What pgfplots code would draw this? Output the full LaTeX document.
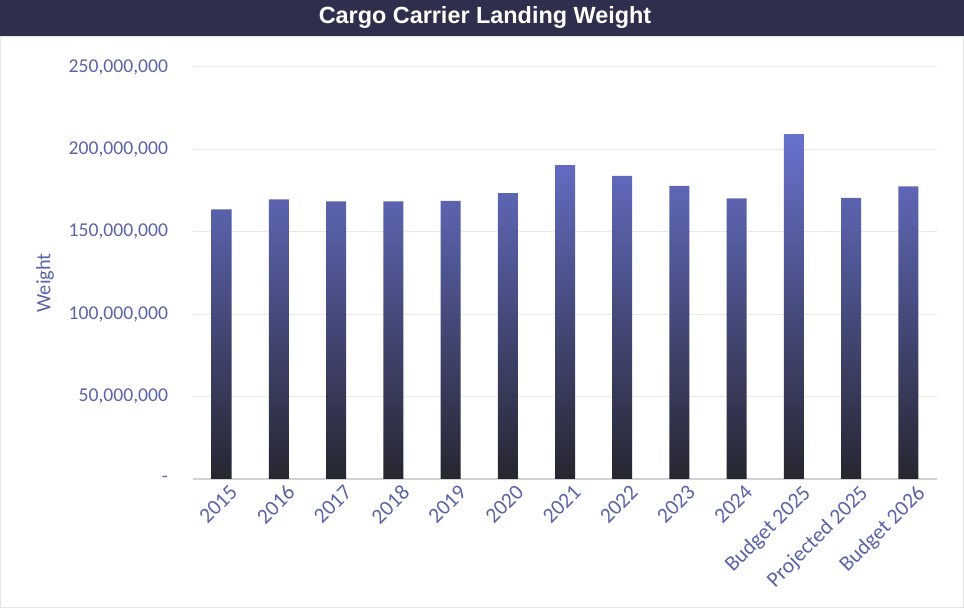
\documentclass[border=0pt]{standalone}
\usepackage{pgfplots}
\pgfplotsset{compat=1.18}
\usepackage{fontspec}
\setmainfont{Carlito}
\newfontfamily\titlefont{Liberation Sans}
\definecolor{titlebg}{RGB}{45,47,77}
\definecolor{labelblue}{RGB}{92,100,168}
\definecolor{bartop}{RGB}{104,114,206}
\definecolor{barbot}{RGB}{38,38,48}
\pgfplotstableread{
x val
0 163.6
1 169.7
2 168.5
3 168.5
4 168.8
5 173.4
6 190.4
7 184.0
8 177.9
9 170.3
10 209.2
11 170.6
12 177.6
}\weights
\begin{document}
\begin{tikzpicture}
\useasboundingbox (0,0) rectangle (482pt,304pt);
\fill[white] (0,0) rectangle (482pt,304pt);
\draw[gray!20, line width=0.6pt] (0.3pt,0.3pt) rectangle (481.7pt,286pt);
\fill[titlebg] (0,286pt) rectangle (482pt,304pt);
\node[text=white, font=\titlefont\bfseries\fontsize{11.7}{13}\selectfont] at (242.5pt,295pt) {Cargo Carrier Landing Weight};
\begin{axis}[
  at={(96.5pt,64.5pt)}, anchor=south west,
  scale only axis, width=372pt, height=206pt,
  xmin=-0.5, xmax=12.5, ymin=0, ymax=250,
  ybar, bar width=10pt,
  xtick=data,
  xticklabels={2015,2016,2017,2018,2019,2020,2021,2022,2023,2024,Budget 2025,Projected 2025,Budget 2026},
  xticklabel style={rotate=45, anchor=north east, font=\fontsize{10.8}{12}\selectfont, text=labelblue, inner sep=1pt, yshift=-3pt, xshift=2pt},
  ytick={0,50,100,150,200,250},
  yticklabels={-,{50,000,000},{100,000,000},{150,000,000},{200,000,000},{250,000,000}},
  yticklabel style={font=\fontsize{9.8}{11}\selectfont, text=labelblue, anchor=east, xshift=-9pt},
  ylabel={Weight},
  ylabel style={at={(axis description cs:-0.199,0.476)}, anchor=center, font=\fontsize{10.2}{12}\selectfont, text=labelblue},
  ymajorgrids, grid style={gray!18, line width=0.5pt},
  axis x line*=bottom, axis y line*=left,
  x axis line style={draw=gray!35, line width=0.6pt, -},
  y axis line style={draw=none},
  major tick length=0pt,
  clip=false,
]
\addplot[draw=none, top color=bartop, bottom color=barbot] table[x=x, y=val] {\weights};
\end{axis}
\end{tikzpicture}
\end{document}
